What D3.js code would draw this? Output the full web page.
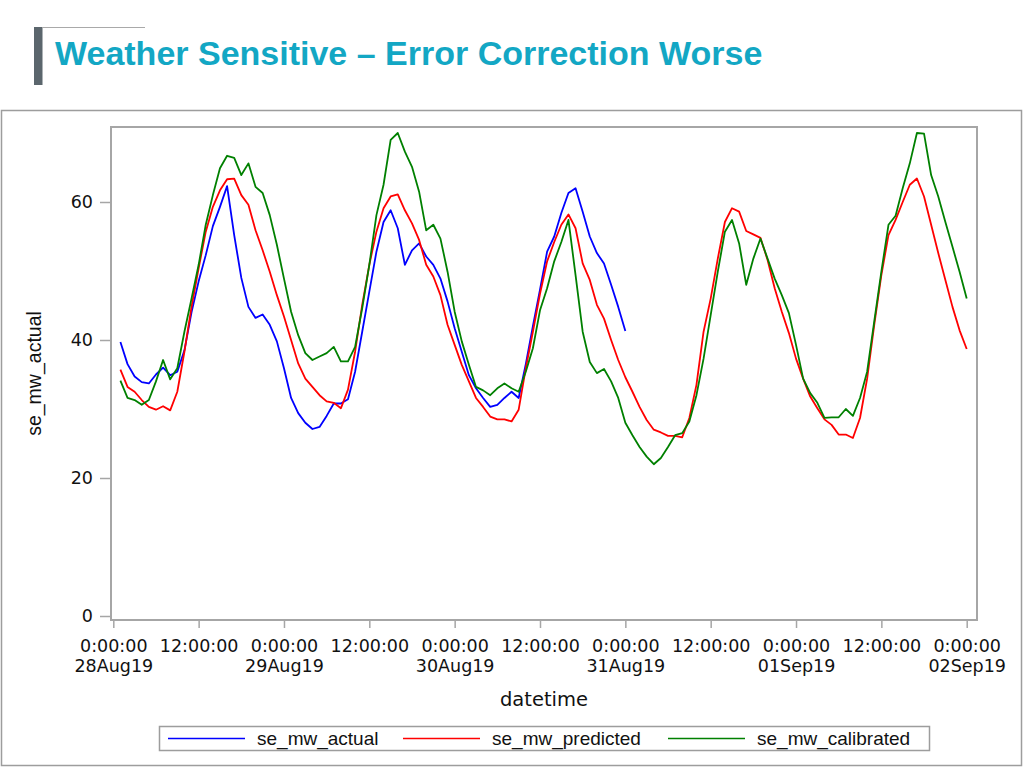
<!DOCTYPE html>
<html>
<head>
<meta charset="utf-8">
<script src="https://cdn.jsdelivr.net/npm/d3@7"></script>
<style>
  body { margin: 0; background: #fff; }
  svg { display: block; }
</style>
</head>
<body>
<div id="chart"></div>
<script>
// hourly readings, first value is 28Aug19 1:00:00
const firstReading = new Date(2019, 7, 28, 1, 0, 0);

const seActual = [
  39.7, 36.5, 34.7, 33.9, 33.7, 35.0, 36.0, 34.9, 35.4, 38.5,
  44.0, 48.5, 52.3, 56.5, 59.3, 62.3, 55.2, 49.0, 44.8, 43.2,
  43.7, 42.2, 39.8, 35.9, 31.6, 29.4, 28.0, 27.1, 27.4, 29.0,
  30.8, 30.8, 31.4, 35.4, 41.2, 47.0, 52.8, 57.1, 58.8, 56.2,
  50.9, 53.0, 54.0, 52.1, 50.9, 48.9, 45.6, 41.7, 38.3, 34.9,
  33.0, 31.6, 30.3, 30.6, 31.6, 32.5, 31.6, 36.5, 42.0, 47.3,
  52.8, 55.0, 58.4, 61.3, 62.0, 58.6, 55.0, 52.6, 51.1, 48.0,
  44.8, 41.3
];

const sePredicted = [
  35.7, 33.2, 32.5, 31.3, 30.3, 29.9, 30.4, 29.8, 32.5, 38.3,
  44.8, 50.4, 55.7, 59.3, 61.7, 63.3, 63.4, 61.0, 59.6, 55.9,
  53.0, 49.9, 46.5, 43.4, 40.0, 36.6, 34.4, 33.2, 32.0, 31.1,
  30.9, 30.1, 32.8, 38.3, 45.1, 50.9, 55.7, 59.1, 60.8, 61.1,
  58.8, 56.9, 54.5, 50.9, 49.2, 46.5, 42.2, 39.3, 36.4, 34.0,
  31.6, 30.3, 28.9, 28.5, 28.5, 28.2, 29.9, 35.9, 41.2, 46.7,
  51.4, 54.2, 56.7, 58.2, 56.2, 51.1, 48.7, 45.1, 43.1, 40.0,
  37.1, 34.6, 32.5, 30.3, 28.4, 27.0, 26.6, 26.1, 26.1, 25.9,
  28.7, 33.5, 41.2, 46.0, 51.8, 57.1, 59.1, 58.6, 55.8, 55.3,
  54.8, 51.6, 47.5, 44.1, 41.0, 37.3, 34.4, 31.8, 30.1, 28.5,
  27.7, 26.3, 26.3, 25.8, 28.7, 34.4, 42.2, 49.4, 55.2, 57.4,
  60.0, 62.5, 63.4, 60.8, 56.7, 52.6, 48.7, 44.8, 41.4, 38.7
];

const seCalibrated = [
  34.1, 31.6, 31.3, 30.6, 31.3, 34.0, 37.1, 34.3, 35.9, 41.2,
  46.0, 50.9, 56.7, 61.0, 64.9, 66.7, 66.4, 63.9, 65.6, 62.2,
  61.3, 58.1, 53.8, 48.9, 44.1, 40.7, 38.1, 37.1, 37.6, 38.1,
  39.0, 36.9, 36.9, 39.0, 44.6, 50.9, 58.1, 62.5, 69.0, 70.0,
  67.3, 65.1, 61.5, 55.9, 56.7, 54.7, 49.9, 44.1, 39.8, 36.4,
  33.2, 32.7, 32.0, 33.0, 33.7, 33.0, 32.5, 35.4, 38.8, 44.3,
  47.5, 51.4, 54.2, 57.4, 49.4, 41.2, 36.8, 35.2, 35.8, 34.0,
  31.6, 28.0, 26.2, 24.5, 23.1, 22.0, 22.9, 24.5, 26.2, 26.5,
  28.2, 32.0, 37.3, 43.6, 49.9, 55.7, 57.4, 54.0, 48.0, 51.8,
  54.7, 51.8, 48.9, 46.5, 43.9, 39.3, 34.4, 32.3, 30.9, 28.7,
  28.8, 28.8, 30.0, 29.0, 31.6, 35.4, 42.7, 49.9, 56.7, 58.0,
  62.0, 65.6, 70.0, 69.9, 63.9, 60.8, 57.1, 53.5, 49.9, 46.0
];

const seriesNames = ["se_mw_actual", "se_mw_predicted", "se_mw_calibrated"];
const seriesColors = ["#0000ff", "#ff0000", "#008000"];

const yTicks = [0, 20, 40, 60];
const xTickDates = [
  "2019-08-28T00:00", "2019-08-28T12:00", "2019-08-29T00:00", "2019-08-29T12:00",
  "2019-08-30T00:00", "2019-08-30T12:00", "2019-08-31T00:00", "2019-08-31T12:00",
  "2019-09-01T00:00", "2019-09-01T12:00", "2019-09-02T00:00"
];
const xTimeLabels = ["0:00:00", "12:00:00", "0:00:00", "12:00:00", "0:00:00", "12:00:00",
  "0:00:00", "12:00:00", "0:00:00", "12:00:00", "0:00:00"];
const xDayLabels = ["28Aug19", "", "29Aug19", "", "30Aug19", "", "31Aug19", "", "01Sep19", "", "02Sep19"];

const W = 1024, H = 768;
const frame = {left: 111, top: 127, right: 977, bottom: 620};
const tickFont = "'DejaVu Sans', sans-serif";
const labelFont = "'Liberation Sans', Arial, sans-serif";
const axisGray = "#a6a6a6";

const svg = d3.select("#chart").append("svg")
  .attr("width", W)
  .attr("height", H);

// Title block
svg.append("rect")
  .attr("x", 34).attr("y", 27).attr("width", 8.5).attr("height", 58)
  .attr("fill", "#5b666d");
svg.append("line")
  .attr("x1", 42).attr("x2", 145).attr("y1", 27.5).attr("y2", 27.5)
  .attr("stroke", "#a9a9a9").attr("stroke-width", 1);
svg.append("text")
  .attr("x", 55).attr("y", 65)
  .style("font-family", labelFont)
  .style("font-size", "34px")
  .style("font-weight", "bold")
  .attr("fill", "#13a7c4")
  .text("Weather Sensitive \u2013 Error Correction Worse");

// Outer box
svg.append("rect")
  .attr("x", 1.5).attr("y", 110.5).attr("width", 1020).attr("height", 655)
  .attr("fill", "none").attr("stroke", "#9d9d9d").attr("stroke-width", 1.5);

// Scales
const parseTick = d3.timeParse("%Y-%m-%dT%H:%M");
const tickDates = xTickDates.map(parseTick);

const x = d3.scaleTime()
  .domain([tickDates[0], tickDates[tickDates.length - 1]])
  .range([113.3, 966.7]);

const y = d3.scaleLinear()
  .domain([0, 60])
  .range([616, 202]);

function toRows(values) {
  return values.map(function (v, i) {
    return {time: d3.timeHour.offset(firstReading, i), value: v};
  });
}
const allSeries = [seActual, sePredicted, seCalibrated].map(toRows);

// Y axis
const yAxis = svg.append("g")
  .attr("transform", "translate(" + frame.left + ",0)")
  .call(d3.axisLeft(y).tickValues(yTicks).tickSize(11).tickPadding(7));
yAxis.select(".domain").remove();
yAxis.selectAll("line").attr("stroke", axisGray).attr("stroke-width", 1.5);
yAxis.selectAll("text")
  .style("font-family", tickFont).style("font-size", "17.5px").attr("fill", "#111");

// X axis with two-line labels
const xAxis = svg.append("g")
  .attr("transform", "translate(0," + frame.bottom + ")")
  .call(d3.axisBottom(x).tickValues(tickDates).tickSize(8).tickFormat(""));
xAxis.select(".domain").remove();
xAxis.selectAll("line").attr("stroke", axisGray).attr("stroke-width", 1.5);
xAxis.selectAll(".tick text").each(function (d, i) {
  const t = d3.select(this).attr("dy", null).attr("y", null)
    .style("font-family", tickFont).style("font-size", "17.5px").attr("fill", "#111");
  t.append("tspan").attr("x", 0).attr("y", 32).text(xTimeLabels[i]);
  t.append("tspan").attr("x", 0).attr("y", 52).text(xDayLabels[i]);
});

// Frame
svg.append("rect")
  .attr("x", frame.left).attr("y", frame.top)
  .attr("width", frame.right - frame.left).attr("height", frame.bottom - frame.top)
  .attr("fill", "none").attr("stroke", axisGray).attr("stroke-width", 2);

// Axis titles
svg.append("text")
  .attr("x", (frame.left + frame.right) / 2).attr("y", 706)
  .attr("text-anchor", "middle")
  .style("font-family", tickFont).style("font-size", "19.5px").attr("fill", "#111")
  .text("datetime");
svg.append("text")
  .attr("transform", "translate(41," + ((frame.top + frame.bottom) / 2) + ") rotate(-90)")
  .attr("text-anchor", "middle")
  .style("font-family", labelFont).style("font-size", "19.5px").attr("fill", "#111")
  .text("se_mw_actual");

// Lines
const line = d3.line()
  .x(function (d) { return x(d.time); })
  .y(function (d) { return y(d.value); });

svg.append("g").selectAll("path")
  .data(allSeries)
  .enter().append("path")
  .attr("d", line)
  .attr("fill", "none")
  .attr("stroke", function (d, i) { return seriesColors[i]; })
  .attr("stroke-width", 1.8)
  .attr("stroke-linejoin", "round");

// Legend
const legend = svg.append("g").attr("transform", "translate(159,726)");
legend.append("rect")
  .attr("x", 0.5).attr("y", 0.5).attr("width", 770).attr("height", 24)
  .attr("fill", "#fff").attr("stroke", "#9d9d9d").attr("stroke-width", 1.5);
const legendOffsets = [9, 244, 509];
const legendItems = legend.selectAll(".item")
  .data(seriesNames)
  .enter().append("g")
  .attr("class", "item")
  .attr("transform", function (d, i) { return "translate(" + legendOffsets[i] + ",0)"; });
legendItems.append("line")
  .attr("x1", 0).attr("x2", 77).attr("y1", 12.5).attr("y2", 12.5)
  .attr("stroke", function (d, i) { return seriesColors[i]; })
  .attr("stroke-width", 1.5);
legendItems.append("text")
  .attr("x", 89).attr("y", 19)
  .style("font-family", labelFont).style("font-size", "19px").attr("fill", "#111")
  .text(function (d) { return d; });
</script>
</body>
</html>
